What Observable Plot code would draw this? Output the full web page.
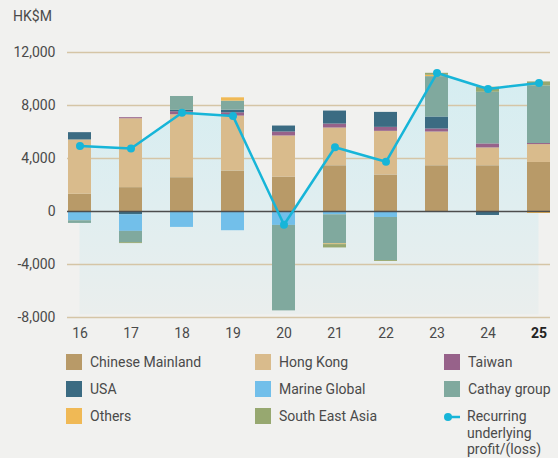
<!DOCTYPE html>
<html>
<head>
<meta charset="utf-8">
<script src="https://cdn.jsdelivr.net/npm/d3@7"></script>
<script src="https://cdn.jsdelivr.net/npm/@observablehq/plot@0.6"></script>
<style>
  html, body { margin: 0; padding: 0; background: #f1f1ef; }
  body { width: 558px; height: 458px; overflow: hidden; font-family: Roboto, sans-serif; color: #4a4a4a; }
  #unit { height: 30px; position: relative; }
  #unit span { position: absolute; left: 13px; top: 7px; font-size: 14px; line-height: 18px; }
  #legend { display: grid; grid-template-columns: 189px 189px 114px; padding-left: 66px; padding-top: 7px; row-gap: 11px; font-size: 14px; }
  .item { display: flex; align-items: flex-start; height: 16px; }
  .sw { width: 16px; height: 16px; flex: none; margin-right: 8px; }
  .lbl { line-height: 16px; }
  .lbl.multi { line-height: 16.5px; }
  .lineicon { width: 16px; height: 16px; flex: none; margin-right: 7px; position: relative; }
</style>
</head>
<body>
<div id="unit"><span>HK$M</span></div>
<div id="chart"></div>
<div id="legend"></div>
<script>
// ---- data (HK$M) ----
const years = ["16", "17", "18", "19", "20", "21", "22", "23", "24", "25"];
const seriesNames = ["Chinese Mainland", "Hong Kong", "Taiwan", "USA", "Marine Global", "Cathay group", "Others", "South East Asia"];
const seriesColors = ["#b89a68", "#d9bb8c", "#97628a", "#3b6b82", "#72bfea", "#80a99e", "#f0b955", "#97a870"];
const chineseMainland = [1300, 1800, 2550, 3050, 2600, 3450, 2750, 3450, 3450, 3700];
const hongKong        = [4100, 5200, 4750, 4150, 3100, 2850, 3300, 2550, 1350, 1350];
const taiwan          = [0, 80, 230, 250, 300, 300, 300, 230, 300, 80];
const usa             = [550, -250, 100, 200, 450, 980, 1130, 900, -300, 0];
const marineGlobal    = [-700, -1250, -1200, -1450, -1050, -250, -450, 0, 0, 0];
const cathayGroup     = [-200, -850, 1050, 680, -6450, -2200, -3250, 3050, 3900, 4350];
const others          = [0, 0, 0, 250, 0, -50, 0, 100, 0, -150];
const southEastAsia   = [0, -70, 0, 0, 0, -250, -70, 150, 380, 300];
const recurringProfit = [4950, 4750, 7450, 7200, -1000, 4850, 3750, 10450, 9250, 9700];
const yTicks = [-8000, -4000, 0, 4000, 8000, 12000];
const areaFloor = -7800;

const seriesValues = [chineseMainland, hongKong, taiwan, usa, marineGlobal, cathayGroup, others, southEastAsia];
const table = [];
seriesNames.forEach((s, k) => years.forEach((yr, i) => table.push({year: yr, series: s, value: seriesValues[k][i]})));
const profitData = years.map((yr, i) => ({year: yr, value: recurringProfit[i]}));

const lineColor = "#17b5d8";

const chart = Plot.plot({
  width: 558,
  height: 317,
  marginTop: 22,
  marginBottom: 30,
  marginLeft: 67,
  marginRight: 8,
  style: {fontFamily: "Roboto, sans-serif", fontSize: "14px", color: "#4a4a4a", background: "transparent"},
  x: {domain: years, paddingInner: 0.55, paddingOuter: 0, axis: null},
  y: {domain: [-8000, 12000], axis: null},
  color: {domain: seriesNames, range: seriesColors},
  marks: [
    Plot.areaY(profitData, {x: "year", y1: areaFloor, y2: "value", fill: "url(#areaGrad)", curve: "linear"}),
    Plot.ruleY(yTicks.filter(d => d !== 0), {stroke: "#d5c5a6", strokeWidth: 1.5}),
    Plot.barY(table, {x: "year", y: "value", fill: "series"}),
    Plot.ruleY([0], {stroke: "#4d4d4d", strokeWidth: 1.5}),
    Plot.line(profitData, {x: "year", y: "value", stroke: lineColor, strokeWidth: 2.5}),
    Plot.dot(profitData, {x: "year", y: "value", fill: lineColor, r: 4}),
    Plot.axisY(yTicks, {tickSize: 0, tickPadding: 12, tickFormat: d => d.toLocaleString("en-US"), fontSize: 14, label: null, fontWeight: "normal"}),
    Plot.axisX(years.slice(0, -1), {tickSize: 0, tickPadding: 11, fontSize: 14, label: null, fontWeight: "normal"}),
    Plot.axisX(years.slice(-1), {tickSize: 0, tickPadding: 11, fontSize: 14, fontWeight: "bold", label: null, fill: "#222"})
  ]
});
d3.select(chart).insert("defs", ":first-child").html(
  '<linearGradient id="areaGrad" x1="0" y1="0" x2="0" y2="1">' +
  '<stop offset="0" stop-color="#d5edf1"/>' +
  '<stop offset="0.55" stop-color="#e0eef0"/>' +
  '<stop offset="1" stop-color="#eaeeed"/>' +
  '</linearGradient>');
document.getElementById("chart").appendChild(chart);

// legend
const legend = document.getElementById("legend");
seriesNames.forEach((name, k) => {
  const it = document.createElement("div");
  it.className = "item";
  it.innerHTML = `<div class="sw" style="background:${seriesColors[k]}"></div><div class="lbl">${name}</div>`;
  legend.appendChild(it);
});
const li = document.createElement("div");
li.className = "item";
li.innerHTML = `<svg class="lineicon" width="16" height="16"><line x1="2" x2="16" y1="9" y2="9" stroke="${lineColor}" stroke-width="2.5"/><circle cx="4" cy="9" r="4" fill="${lineColor}"/></svg><div class="lbl multi">Recurring<br>underlying<br>profit/(loss)</div>`;
legend.appendChild(li);
</script>
</body>
</html>
